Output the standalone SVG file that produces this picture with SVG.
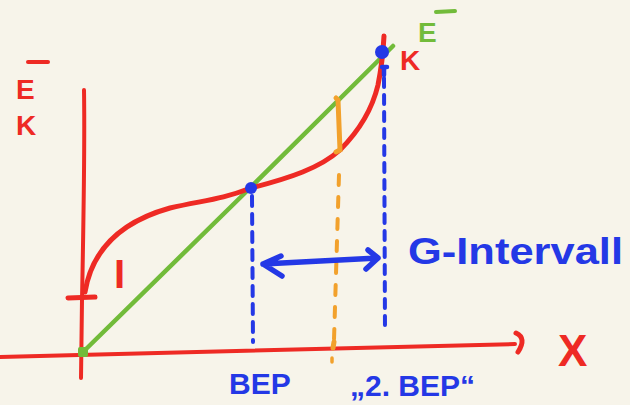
<svg xmlns="http://www.w3.org/2000/svg" width="630" height="405" viewBox="0 0 630 405">
<style>
.red{stroke:#ee2a24;fill:none;stroke-linecap:round;stroke-linejoin:round}
.grn{stroke:#72bb3a;fill:none;stroke-linecap:round}
.blu{stroke:#2438e6;fill:none;stroke-linecap:round;stroke-linejoin:round}
.org{stroke:#f2a12c;fill:none;stroke-linecap:round}
.t{font-family:"Liberation Sans",Arial,sans-serif;font-weight:bold}
</style>
<rect width="630" height="405" fill="#f7f4ea"/>
<g id="connectors">
  <path class="red" stroke-width="4" d="M84 90 C85 150 83 250 82 300 L81 378"/>
  <path class="red" stroke-width="4" d="M0 357 C120 353 300 349 515 344"/>
  <path class="red" stroke-width="5" d="M516 333 Q527 338 518 352"/>
  <path class="red" stroke-width="5" d="M68 298 L95 297"/>
  <path class="grn" stroke-width="4.5" d="M83 352 L250 188 L393 46"/>
  <path class="red" stroke-width="5" d="M85 292 C92 250 120 222 170 208 C205 200 220 200 251 188 C290 178 320 168 340 150 C360 130 372 110 378 85 C381 70 383 55 384 36"/>
  <path class="blu" stroke-width="4" stroke-dasharray="10 8" d="M252 196 L253 342"/>
  <path class="blu" stroke-width="4" stroke-dasharray="9 8" d="M384 78 L385 332"/>
  <path class="blu" stroke-width="4.5" d="M382 67 L387 67 M384 67 L384 75"/>
  <path class="org" stroke-width="5" d="M336 98 L338 100 L340 150 L336 152"/>
  <path class="org" stroke-width="4" stroke-dasharray="10 12" d="M339 175 L334 340"/>
  <path class="org" stroke-width="5" d="M334 342 L333 348"/>
  <path class="org" stroke-width="3.5" d="M332 358 L332 362"/>
  <path class="blu" stroke-width="5.5" d="M263 264 L378 258 M281 256 L263 264 L282 276 M368 250 L378 258 L366 269"/>
</g>
<g id="bep-point"><circle cx="251" cy="188" r="6" fill="#2438e6"/></g>
<g id="top-point"><circle cx="382" cy="52" r="7" fill="#2438e6"/></g>
<g id="origin"><rect x="78" y="347" width="10" height="10" rx="2" fill="#72bb3a"/></g>
<g id="axis-label-y">
  <text class="t" x="16" y="99" font-size="28" fill="#ee2a24">E</text>
  <line class="red" stroke-width="4" x1="28" y1="62" x2="48" y2="62"/>
  <text class="t" x="16" y="135" font-size="28" fill="#ee2a24">K</text>
</g>
<g id="label-E"><text class="t" x="418" y="42" font-size="28" fill="#72bb3a">E</text>
  <line class="grn" stroke-width="4" x1="436" y1="12" x2="455" y2="11"/></g>
<g id="label-K"><text class="t" x="400" y="70" font-size="28" fill="#ee2a24">K</text></g>
<g id="label-I"><text class="t" x="114" y="288" font-size="40" fill="#ee2a24">I</text></g>
<g id="label-G"><text class="t" x="408" y="264" font-size="36" fill="#2438e6" textLength="215" lengthAdjust="spacingAndGlyphs">G-Intervall</text></g>
<g id="label-BEP"><text class="t" x="229" y="394" font-size="30" fill="#2438e6">BEP</text></g>
<g id="label-2BEP"><text class="t" x="350" y="396" font-size="30" fill="#2438e6">„2. BEP“</text></g>
<g id="label-X"><text class="t" x="558" y="366" font-size="44" fill="#ee2a24">X</text></g>
</svg>
